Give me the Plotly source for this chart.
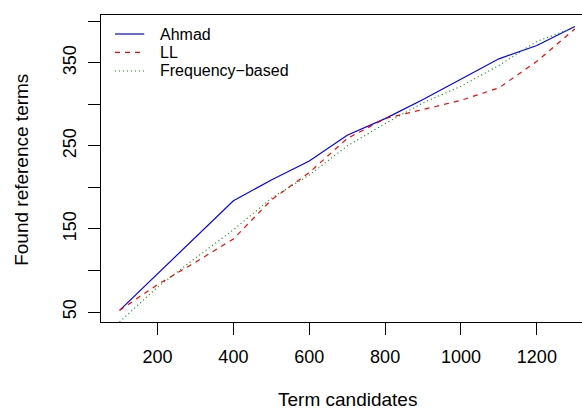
import plotly.graph_objects as go

# Data
term_candidates = [100, 200, 300, 400, 500, 600, 700, 800, 900, 1000, 1100, 1200, 1300]
ahmad = [52, 96, 140, 184, 209, 232, 263, 283, 306, 331, 355, 371, 394]
ll = [52, 83, 110, 138, 185, 218, 259, 283, 294, 305, 320, 352, 391]
freq_based = [38, 80, 115, 149, 187, 215, 250, 277, 302, 322, 347, 376, 393]

series_names = ["Ahmad", "LL", "Frequency\u2212based"]
series_colors = ["#0000FF", "#FF0000", "#008B00"]
series_dashes = ["solid", "5px,5px", "1px,3px"]

x_ticks = [200, 400, 600, 800, 1000, 1200]
y_ticks = [50, 100, 150, 200, 250, 300, 350, 400]
y_ticktext = ["50", "", "150", "", "250", "", "350", ""]

FONT = "Liberation Sans, Arial, Helvetica, sans-serif"

fig = go.Figure()
for name, vals, col, dash in zip(series_names, [ahmad, ll, freq_based], series_colors, series_dashes):
    fig.add_trace(go.Scatter(x=term_candidates, y=vals, mode="lines", name=name,
                             line=dict(color=col, width=1.2, dash=dash)))

# legend drawn in the R style (line sample + label), top-left inside the box
leg_rows_y = [0.9381, 0.8785, 0.8176]
shapes = []
annotations = []
for name, col, dash, yy in zip(series_names, series_colors, series_dashes, leg_rows_y):
    shapes.append(dict(type="line", xref="paper", yref="paper", x0=0.0291, x1=0.090,
                       y0=yy, y1=yy, line=dict(color=col, width=1.2, dash=dash)))
    annotations.append(dict(text=name, xref="paper", yref="paper", x=0.118, y=yy,
                            xanchor="left", yanchor="middle", showarrow=False,
                            font=dict(size=16, family=FONT, color="black")))

# axis titles
annotations.append(dict(text="Term candidates", xref="paper", yref="paper", x=0.512, y=-0.2925,
                        xanchor="center", yanchor="bottom", showarrow=False,
                        font=dict(size=19, family=FONT, color="black")))
annotations.append(dict(text="Found reference terms", xref="paper", yref="paper", x=-0.1667, y=0.495,
                        xanchor="center", yanchor="middle", textangle=-90, showarrow=False,
                        font=dict(size=19, family=FONT, color="black")))

fig.update_layout(
    width=582, height=412,
    margin=dict(l=101, r=0, t=15, b=90),
    paper_bgcolor="white", plot_bgcolor="white",
    font=dict(family=FONT, size=18, color="black"),
    showlegend=False,
    shapes=shapes,
    annotations=annotations,
)
fig.update_xaxes(
    range=[51, 1319], tickvals=x_ticks, ticks="outside", ticklen=12,
    tickcolor="black", tickwidth=1, showgrid=False, zeroline=False,
    showline=True, linecolor="black", linewidth=1, mirror=True,
    ticklabelstandoff=6, tickfont=dict(size=18),
)
fig.update_yaxes(
    range=[37.95, 407.8], tickvals=y_ticks, ticktext=y_ticktext, tickangle=-90,
    ticks="outside", ticklen=12, tickcolor="black", tickwidth=1,
    showgrid=False, zeroline=False, showline=True, linecolor="black", linewidth=1,
    mirror=False, ticklabelstandoff=5, tickfont=dict(size=18),
)

fig.write_html("out.html")
